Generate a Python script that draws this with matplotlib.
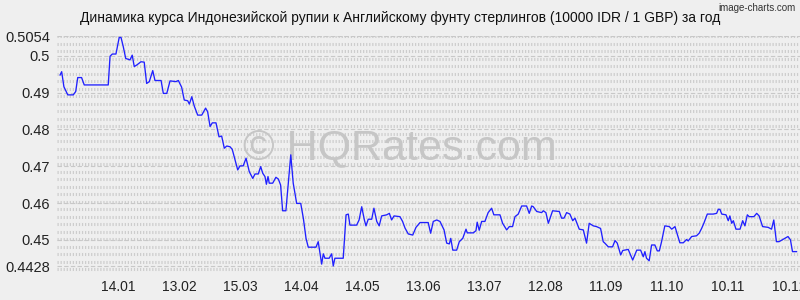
import numpy as np
import matplotlib
matplotlib.use("Agg")
import matplotlib.pyplot as plt

# days since start of period, and rate (10000 IDR / 1 GBP)
days = [1.5, 2.3, 3.4, 5.3, 8.0, 9.2, 10.2, 12.1, 13.4, 25.2, 26.1, 27.2, 29.0, 30.6, 31.5,
        32.6, 33.8, 35.9, 37.0, 38.0, 39.2, 41.3, 42.9, 44.1, 45.4, 47.1, 48.2, 51.2, 52.3,
        54.0, 55.6, 58.5, 59.7, 61.3, 62.6, 64.3, 65.1, 66.3, 67.5, 69.2, 71.2, 73.1, 74.1,
        75.3, 76.4, 78.2, 79.7, 81.0, 82.3, 83.5, 85.1, 86.2, 87.6, 88.9, 90.0, 91.6, 93.0,
        94.6, 96.3, 97.4, 99.0, 100.2, 101.2, 102.3, 103.0, 103.8, 104.4, 106.1, 107.7, 108.9,
        110.0, 111.0, 112.6, 113.8, 115.0, 116.2, 117.9, 119.9, 121.2, 122.5, 123.6, 127.4,
        128.5, 129.4, 130.2, 131.0, 131.8, 133.9, 135.1, 135.9, 136.7, 140.8, 142.2, 143.3,
        144.1, 147.4, 148.6, 149.9, 151.2, 152.0, 153.1, 154.8, 155.9, 157.3, 158.5, 159.7,
        162.2, 163.5, 164.6, 165.8, 168.7, 170.0, 171.2, 172.8, 175.0, 176.6, 178.6, 182.6,
        183.8, 185.1, 186.8, 188.4, 190.4, 191.7, 193.0, 193.7, 194.7, 196.6, 197.9, 199.6,
        201.2, 201.8, 204.8, 206.1, 206.7, 207.7, 208.9, 210.5, 212.1, 213.8, 214.9, 217.9,
        219.2, 221.2, 222.5, 224.1, 225.3, 226.9, 228.6, 231.0, 232.3, 233.5, 234.3, 236.0,
        238.4, 239.2, 240.5, 241.7, 243.8, 247.1, 248.2, 249.4, 250.7, 252.3, 253.7, 254.8,
        256.9, 258.9, 260.5, 261.8, 263.8, 265.4, 267.4, 268.7, 269.5, 271.2, 273.3, 274.5,
        275.6, 277.3, 278.3, 281.0, 283.2, 285.2, 287.1, 288.4, 289.2, 290.0, 291.3, 292.5,
        294.1, 295.3, 296.3, 297.4, 299.0, 301.2, 302.4, 304.0, 306.4, 308.1, 309.7, 310.5,
        312.2, 314.6, 315.9, 317.1, 318.2, 319.9, 322.8, 324.5, 325.3, 326.1, 327.0, 329.1,
        330.2, 331.0, 331.9, 332.7, 334.0, 336.0, 337.3, 338.4, 339.6, 340.5, 342.8, 344.2,
        345.4, 347.1, 349.8, 351.5, 352.6, 353.9, 355.2, 357.1, 359.6, 360.8, 361.8, 363.8]

rates = [0.4948, 0.4957, 0.4916, 0.4894, 0.4894, 0.4903, 0.4941, 0.4941, 0.4921, 0.4921,
         0.4999, 0.5005, 0.5005, 0.5050, 0.5050, 0.5025, 0.4993, 0.4989, 0.5002, 0.4971,
         0.4975, 0.4984, 0.4983, 0.4925, 0.4930, 0.4960, 0.4933, 0.4933, 0.4898, 0.4898,
         0.4932, 0.4930, 0.4933, 0.4915, 0.4880, 0.4878, 0.4869, 0.4889, 0.4864, 0.4839,
         0.4839, 0.4858, 0.4848, 0.4808, 0.4818, 0.4818, 0.4780, 0.4782, 0.4749, 0.4755,
         0.4753, 0.4746, 0.4717, 0.4690, 0.4701, 0.4701, 0.4722, 0.4685, 0.4667, 0.4679,
         0.4679, 0.4699, 0.4681, 0.4672, 0.4651, 0.4672, 0.4654, 0.4654, 0.4670, 0.4665,
         0.4649, 0.4579, 0.4579, 0.4654, 0.4731, 0.4654, 0.4599, 0.4599, 0.4558, 0.4504,
         0.4480, 0.4480, 0.4495, 0.4463, 0.4434, 0.4462, 0.4450, 0.4450, 0.4462, 0.4429,
         0.4450, 0.4450, 0.4568, 0.4570, 0.4540, 0.4540, 0.4554, 0.4590, 0.4554, 0.4538,
         0.4556, 0.4556, 0.4586, 0.4550, 0.4538, 0.4565, 0.4568, 0.4572, 0.4554, 0.4565,
         0.4563, 0.4550, 0.4532, 0.4516, 0.4513, 0.4534, 0.4547, 0.4547, 0.4518, 0.4550,
         0.4554, 0.4550, 0.4527, 0.4491, 0.4489, 0.4504, 0.4472, 0.4472, 0.4495, 0.4504,
         0.4529, 0.4519, 0.4519, 0.4525, 0.4548, 0.4526, 0.4550, 0.4550, 0.4574, 0.4586,
         0.4568, 0.4568, 0.4545, 0.4527, 0.4536, 0.4536, 0.4563, 0.4570, 0.4592, 0.4592,
         0.4572, 0.4592, 0.4590, 0.4577, 0.4574, 0.4579, 0.4574, 0.4545, 0.4579, 0.4577,
         0.4559, 0.4559, 0.4574, 0.4570, 0.4552, 0.4559, 0.4529, 0.4527, 0.4491, 0.4545,
         0.4538, 0.4536, 0.4531, 0.4495, 0.4491, 0.4481, 0.4481, 0.4498, 0.4491, 0.4459,
         0.4471, 0.4474, 0.4445, 0.4472, 0.4472, 0.4454, 0.4468, 0.4450, 0.4443, 0.4486,
         0.4486, 0.4470, 0.4470, 0.4495, 0.4538, 0.4536, 0.4529, 0.4536, 0.4492, 0.4492,
         0.4501, 0.4497, 0.4509, 0.4511, 0.4518, 0.4531, 0.4545, 0.4570, 0.4570, 0.4572,
         0.4583, 0.4583, 0.4570, 0.4568, 0.4552, 0.4565, 0.4545, 0.4552, 0.4529, 0.4529,
         0.4552, 0.4538, 0.4568, 0.4563, 0.4563, 0.4572, 0.4565, 0.4536, 0.4534, 0.4529,
         0.4554, 0.4495, 0.4495, 0.4501, 0.4509, 0.4500, 0.4468, 0.4468]

month_labels = ["14.01", "13.02", "15.03", "14.04", "14.05", "13.06",
                "13.07", "12.08", "11.09", "11.10", "10.11", "10.12"]
y_ticks = [0.4428, 0.45, 0.46, 0.47, 0.48, 0.49, 0.5, 0.5054]

title = "Динамика курса Индонезийской рупии к Английскому фунту стерлингов (10000 IDR / 1 GBP) за год"

BG = "#efefef"
plt.rcParams["font.family"] = ["Liberation Sans", "DejaVu Sans"]

fig = plt.figure(figsize=(8, 3), dpi=100, facecolor=BG)
ax = fig.add_axes([57 / 800, 23 / 300, 743 / 800, 241 / 300])
ax.set_facecolor(BG)

y_lo, y_hi = 0.4399, 0.5054
ax.set_xlim(0, 365.5)
ax.set_ylim(y_lo, y_hi)

# dotted background rows (image-charts style)
for yy in np.linspace(y_lo, y_hi, 33)[1:]:
    ax.axhline(yy, color="#cdcdcd", lw=2.2, dashes=(0.4, 0.6), zorder=0)
for yy in y_ticks:
    ax.axhline(yy, color="#c8c8c8", lw=0.8, dashes=(4, 2), zorder=0)

ax.plot(days, rates, color="#2020ff", lw=0.95, zorder=3)

ax.set_yticks(y_ticks)
ax.set_yticklabels([f"{v:g}" for v in y_ticks])
ax.set_xticks([30 * (i + 1) for i in range(len(month_labels))])
ax.set_xticklabels(month_labels)
ax.tick_params(axis="y", length=0, pad=5, labelsize=10.5, colors="#222222")
ax.tick_params(axis="x", length=0, pad=2, labelsize=10, colors="#222222")
for s in ax.spines.values():
    s.set_visible(False)

# watermark
ax.text(0.4616, 0.535, "© HQRates.com", transform=ax.transAxes, ha="center", va="center",
        fontsize=31, color="#c6c6c6", zorder=1)

fig.text(0.5, 0.94, title, ha="center", va="center", fontsize=10, color="#111111")
fig.text(0.995, 0.99, "image-charts.com", ha="right", va="top", fontsize=7, color="#333333")

fig.savefig("out.png", dpi=100, facecolor=BG)
